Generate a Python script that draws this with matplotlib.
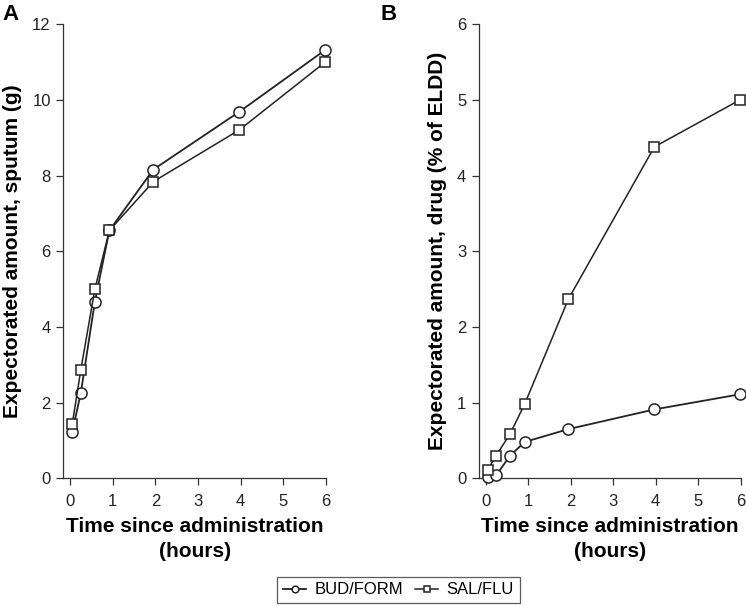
import matplotlib
matplotlib.use('Agg')
import matplotlib.pyplot as plt

plt.rcParams['font.family'] = ['Liberation Sans', 'DejaVu Sans']

# time points (hours)
t = [0.05, 0.25, 0.58, 0.92, 1.95, 3.97, 5.98]

# panel A: expectorated sputum (g)
sputum_bud = [1.23, 2.25, 4.67, 6.55, 8.16, 9.69, 11.32]
sputum_sal = [1.43, 2.86, 5.0, 6.55, 7.84, 9.21, 11.0]

# panel B: expectorated drug (% of ELDD)
drug_bud = [0.02, 0.04, 0.30, 0.48, 0.65, 0.91, 1.11]
drug_sal = [0.11, 0.30, 0.59, 0.98, 2.37, 4.38, 5.0]

labels = ['BUD/FORM', 'SAL/FLU']
xticks = [0, 1, 2, 3, 4, 5, 6]

W, H = 746, 606
fig = plt.figure(figsize=(W / 100, H / 100), dpi=100)

axA = fig.add_axes([63.3 / W, 1 - 478.3 / H, (326 - 63.3) / W, (478.3 - 24.3) / H])
axB = fig.add_axes([478.7 / W, 1 - 478.3 / H, (740.7 - 478.7) / W, (478.3 - 24.3) / H])


def style(ax, ymax, yticks, ylabel):
    ax.set_xlim(-0.16, 6)
    ax.set_ylim(0, ymax)
    ax.set_xticks(xticks)
    ax.set_yticks(yticks)
    for s in ['top', 'right']:
        ax.spines[s].set_visible(False)
    for s in ['left', 'bottom']:
        ax.spines[s].set_linewidth(0.9)
        ax.spines[s].set_color('#333333')
    ax.tick_params(direction='out', length=5, width=0.9, colors='#333333',
                   labelsize=12, labelcolor='#222222', pad=4)
    ax.tick_params(axis='x', pad=6)
    ax.set_xlabel('Time since administration\n(hours)', fontsize=15,
                  fontweight='bold', labelpad=6, linespacing=1.42)
    ax.set_ylabel(ylabel, fontsize=15, fontweight='bold', labelpad=7)
    ax.patch.set_alpha(0)


kw_c = dict(color='#222222', lw=1.3, marker='o', ms=8, mfc='white', mec='#222222', mew=1.1, clip_on=False)
kw_s = dict(color='#222222', lw=1.1, marker='s', ms=7.5, mfc='white', mec='#222222', mew=1.1, clip_on=False)

axA.plot(t, sputum_bud, label=labels[0], zorder=3, **kw_c)
axA.plot(t, sputum_sal, label=labels[1], zorder=4, **kw_s)
style(axA, 12, [0, 2, 4, 6, 8, 10, 12], 'Expectorated amount, sputum (g)')

axB.plot(t, drug_bud, label=labels[0], zorder=3, **kw_c)
axB.plot(t, drug_sal, label=labels[1], zorder=4, **kw_s)
style(axB, 6, [0, 1, 2, 3, 4, 5, 6], 'Expectorated amount, drug (% of ELDD)')

fig.text(2 / W, 1 - 4 / H, 'A', fontsize=16, fontweight='bold', va='top', ha='left')
fig.text(381 / W, 1 - 4 / H, 'B', fontsize=16, fontweight='bold', va='top', ha='left')

h, l = axA.get_legend_handles_labels()
leg = fig.legend(h, l, loc='center', bbox_to_anchor=(398.5 / W, 1 - 590 / H), ncol=2,
                 fontsize=12, frameon=True, fancybox=False, handlelength=1.4,
                 handletextpad=0.5, columnspacing=0.7, borderpad=0.35, markerscale=0.6)
leg.get_frame().set_edgecolor('#333333')
leg.get_frame().set_linewidth(0.9)

fig.savefig('out.png', dpi=100)
